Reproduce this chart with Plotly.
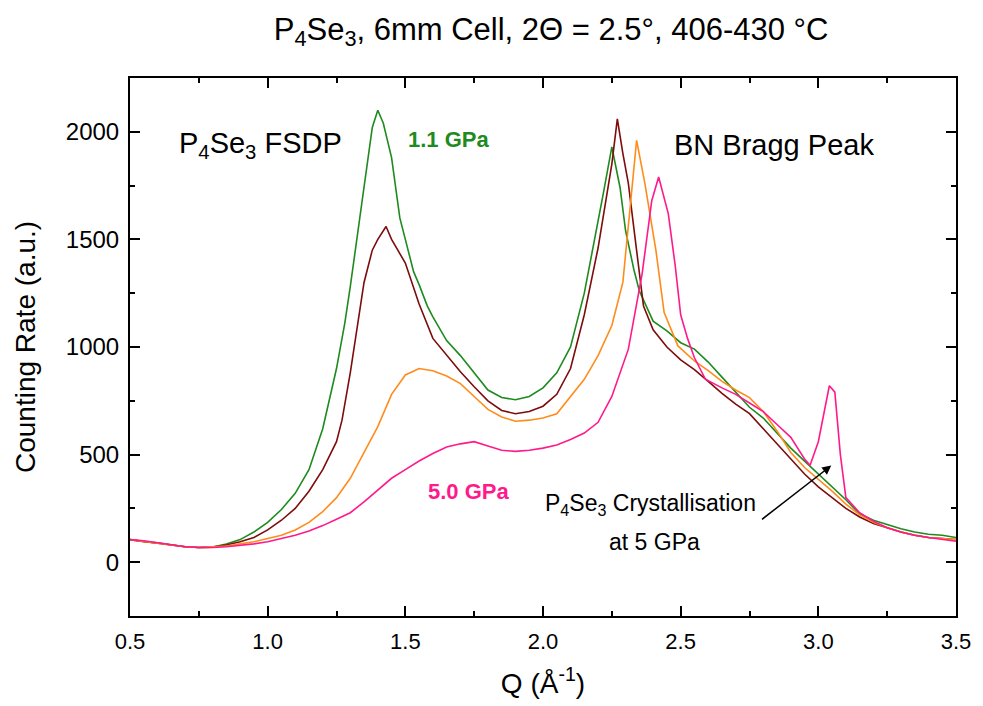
import plotly.graph_objects as go

# ---- data ----
q_green = [0.50,0.55,0.60,0.65,0.70,0.75,0.80,0.85,0.90,0.95,1.00,1.05,1.10,1.15,1.20,1.25,1.28,1.30,1.33,1.35,1.38,1.40,1.42,1.45,1.48,1.50,1.53,1.55,1.58,1.60,1.65,1.70,1.75,1.80,1.85,1.90,1.95,2.00,2.05,2.10,2.15,2.20,2.22,2.25,2.28,2.30,2.33,2.35,2.40,2.45,2.50,2.55,2.60,2.65,2.70,2.75,2.80,2.85,2.90,2.95,3.00,3.05,3.10,3.15,3.20,3.25,3.30,3.35,3.40,3.45,3.50]
i_green = [105,95,90,80,72,68,70,85,105,140,185,245,320,430,620,900,1110,1280,1560,1760,2020,2100,2040,1880,1600,1500,1350,1290,1190,1140,1030,960,880,800,765,755,770,810,880,1000,1250,1580,1720,1930,1740,1540,1360,1260,1120,1075,1020,990,930,860,790,720,670,600,530,470,410,350,290,225,195,175,155,140,130,125,115]

q_red = [0.50,0.55,0.60,0.65,0.70,0.75,0.80,0.85,0.90,0.95,1.00,1.05,1.10,1.15,1.20,1.25,1.27,1.30,1.32,1.35,1.38,1.40,1.43,1.45,1.50,1.55,1.60,1.65,1.70,1.75,1.80,1.85,1.90,1.95,2.00,2.05,2.10,2.15,2.20,2.25,2.27,2.29,2.31,2.335,2.365,2.40,2.45,2.50,2.55,2.60,2.65,2.70,2.75,2.80,2.85,2.90,2.95,3.00,3.05,3.10,3.15,3.20,3.25,3.30,3.35,3.40,3.45,3.50]
i_red = [105,95,88,80,72,68,70,80,95,115,150,195,250,330,430,560,660,880,1040,1300,1450,1500,1560,1500,1390,1200,1040,960,885,815,750,705,690,700,725,780,900,1150,1460,1850,2060,1900,1760,1500,1190,1080,1000,940,895,840,785,735,690,620,550,480,410,350,300,250,210,180,160,140,125,115,110,105]

q_orange = [0.50,0.55,0.60,0.65,0.70,0.75,0.80,0.85,0.90,0.95,1.00,1.05,1.10,1.15,1.20,1.25,1.30,1.35,1.40,1.45,1.50,1.55,1.60,1.65,1.70,1.75,1.80,1.85,1.90,1.95,2.00,2.05,2.10,2.15,2.20,2.25,2.29,2.32,2.34,2.37,2.41,2.44,2.49,2.55,2.60,2.65,2.70,2.75,2.80,2.85,2.90,2.95,3.00,3.05,3.10,3.15,3.20,3.25,3.30,3.35,3.40,3.45,3.50]
i_orange = [105,95,88,80,72,68,70,75,85,95,110,125,150,185,235,300,390,510,630,780,870,900,890,865,830,770,710,675,655,660,670,690,770,850,960,1100,1300,1700,1960,1760,1450,1160,1005,935,890,840,800,765,700,610,510,440,385,330,270,220,185,160,140,125,115,110,105]

q_pink = [0.50,0.55,0.60,0.65,0.70,0.75,0.80,0.85,0.90,0.95,1.00,1.05,1.10,1.15,1.20,1.25,1.30,1.35,1.40,1.45,1.50,1.55,1.60,1.65,1.70,1.75,1.80,1.85,1.90,1.95,2.00,2.05,2.10,2.15,2.20,2.25,2.31,2.36,2.395,2.42,2.455,2.48,2.50,2.525,2.55,2.59,2.65,2.70,2.75,2.80,2.85,2.90,2.95,2.97,3.00,3.02,3.04,3.06,3.08,3.10,3.15,3.20,3.25,3.30,3.35,3.40,3.45,3.50]
i_pink = [105,100,90,80,72,68,68,72,78,85,95,110,125,145,170,200,230,280,335,390,430,470,505,535,550,560,540,520,515,520,530,545,570,600,650,770,990,1340,1680,1790,1620,1380,1150,1040,950,850,810,780,740,700,640,580,480,450,560,690,820,790,500,300,230,190,160,140,125,115,105,97]

x_ticks = [0.5,1.0,1.5,2.0,2.5,3.0,3.5]
x_minor = [0.75,1.25,1.75,2.25,2.75,3.25]
y_ticks = [0,500,1000,1500,2000]
y_minor = [-250,250,750,1250,1750,2250]

series = [
    ("1.1 GPa", q_green, i_green, "#1f8a1f"),
    ("intermediate 1", q_red, i_red, "#7d0c0c"),
    ("intermediate 2", q_orange, i_orange, "#ff8c1a"),
    ("5.0 GPa", q_pink, i_pink, "#ff1a8c"),
]

fig = go.Figure()
for name, q, v, c in series:
    fig.add_trace(go.Scatter(x=q, y=v, mode="lines", name=name,
                             line=dict(color=c, width=1.6), showlegend=False))

reg = "Liberation Sans, Arial"

ann = [
    dict(x=0.975, y=1940, text="P<sub>4</sub>Se<sub>3</sub> FSDP", font=dict(size=29, color="black", family=reg)),
    dict(x=1.658, y=1963, text="<b>1.1 GPa</b>", font=dict(size=22, color="#1f8a1f", family=reg)),
    dict(x=2.84, y=1940, text="BN Bragg Peak", font=dict(size=29, color="black", family=reg)),
    dict(x=1.73, y=329, text="<b>5.0 GPa</b>", font=dict(size=22, color="#ff1a8c", family=reg)),
    dict(x=2.392, y=268, text="P<sub>4</sub>Se<sub>3</sub> Crystallisation", font=dict(size=23, color="black", family=reg)),
    dict(x=2.406, y=93, text="at 5 GPa", font=dict(size=23, color="black", family=reg)),
]
for a in ann:
    fig.add_annotation(x=a["x"], y=a["y"], text=a["text"], font=a["font"], showarrow=False,
                       xref="x", yref="y")

fig.add_annotation(x=3.047, y=449, ax=2.79, ay=194, xref="x", yref="y", axref="x", ayref="y",
                   text="", showarrow=True, arrowhead=2, arrowsize=1.2, arrowwidth=1.5, arrowcolor="black")

fig.update_layout(
    width=975, height=698,
    margin=dict(l=122, r=19, t=70, b=88),
    paper_bgcolor="white", plot_bgcolor="white",
    title=dict(text="P<sub>4</sub>Se<sub>3</sub>, 6mm Cell, 2\u0398 = 2.5\u00b0, 406-430 \u00b0C",
               x=0.557, xanchor="center", y=0.97, yanchor="middle",
               font=dict(size=31, color="black", family=reg)),
)
fig.update_xaxes(range=[0.5, 3.5], tickvals=x_ticks, ticktext=[f"{t:.1f}" for t in x_ticks],
                 showline=True, linecolor="black", linewidth=2, mirror="ticks",
                 ticks="inside", ticklen=10, tickwidth=1.5, tickcolor="black",
                 minor=dict(tickvals=x_minor, ticklen=5, tickwidth=1.5, tickcolor="black", ticks="inside"),
                 showgrid=False, zeroline=False, ticklabelstandoff=5,
                 tickfont=dict(size=22, family=reg, color="black"),
                 title=dict(text="Q (\u00c5<sup>-1</sup>)", font=dict(size=28, family=reg, color="black"), standoff=20))
fig.update_yaxes(range=[-250, 2250], tickvals=y_ticks, ticktext=[str(t) for t in y_ticks],
                 showline=True, linecolor="black", linewidth=2, mirror="ticks",
                 ticks="inside", ticklen=10, tickwidth=1.5, tickcolor="black",
                 minor=dict(tickvals=y_minor, ticklen=5, tickwidth=1.5, tickcolor="black", ticks="inside"),
                 showgrid=False, zeroline=False, ticklabelstandoff=4,
                 tickfont=dict(size=24, family=reg, color="black"),
                 title=dict(text="Counting Rate (a.u.)", font=dict(size=28, family=reg, color="black"), standoff=22))

fig.write_html("out.html")
